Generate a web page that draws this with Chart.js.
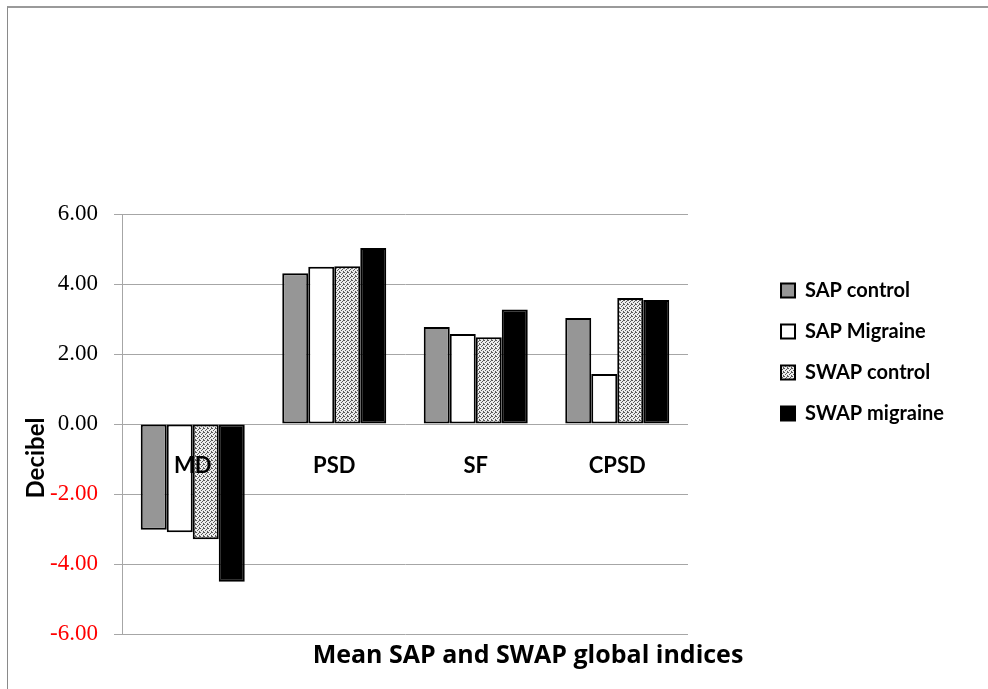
<!DOCTYPE html>
<html>
<head>
<meta charset="utf-8">
<script src="https://cdn.jsdelivr.net/npm/chart.js@4"></script>
<style>
  body { margin: 0; background: #fff; }
  #wrap { position: relative; width: 988px; height: 689px; }
  #frame { position: absolute; left: 7px; top: 6px; right: 0; bottom: 0; border-left: 1px solid #8a8a8a; border-top: 2px solid #9a9a9a; pointer-events: none; }
</style>
</head>
<body>
<div id="wrap">
  <canvas id="chart" width="988" height="689"></canvas>
  <div id="frame"></div>
</div>
<script>
const categories = ['MD', 'PSD', 'SF', 'CPSD'];
const sapControl = [-3.02, 4.31, 2.77, 3.03];
const sapMigraine = [-3.09, 4.49, 2.57, 1.43];
const swapControl = [-3.29, 4.51, 2.48, 3.60];
const swapMigraine = [-4.51, 5.03, 3.27, 3.54];
const xTitle = 'Mean SAP and SWAP global indices';
const yTitle = 'Decibel';

// stippled fill used by Excel for "SWAP control"
function dots() {
    const c = document.createElement('canvas');
    c.width = 4; c.height = 4;
    const g = c.getContext('2d');
    g.fillStyle = '#ececec';
    g.fillRect(0, 0, 4, 4);
    g.fillStyle = '#5a5a5a';
    [[0, 0], [2, 1], [1, 2], [3, 3], [3, 0]].forEach(([x, y]) => g.fillRect(x, y, 1, 1));
    return g.createPattern(c, 'repeat');
}

const padRight = 34;

// axis titles sit where Excel put them, not centred on the plot
const axisTitles = {
    id: 'axisTitles',
    afterDraw(chart) {
        const ctx = chart.ctx;
        ctx.save();
        ctx.fillStyle = '#000';
        ctx.textAlign = 'center';
        ctx.textBaseline = 'middle';
        ctx.font = 'bold 25px "Open Sans"';
        ctx.fillText(xTitle, 528, 656);
        ctx.font = 'bold 24px Lato';
        ctx.translate(36, 458);
        ctx.rotate(-Math.PI / 2);
        ctx.fillText(yTitle, 0, 0);
        ctx.restore();
    }
};

const bar = (label, data, bg) => ({ label, data, backgroundColor: bg, borderColor: '#000', borderWidth: 2, borderSkipped: false });

new Chart(document.getElementById('chart'), {
    type: 'bar',
    data: {
        labels: categories,
        datasets: [
            bar('SAP control', sapControl, '#969696'),
            bar('SAP Migraine', sapMigraine, '#ffffff'),
            bar('SWAP control', swapControl, dots()),
            bar('SWAP migraine', swapMigraine, '#000000')
        ]
    },
    options: {
        responsive: false,
        animation: false,
        layout: { padding: { top: 214, bottom: 55, left: 0, right: padRight } },
        datasets: { bar: { categoryPercentage: 0.735, barPercentage: 1 } },
        scales: {
            x: {
                position: { y: 0 },
                grid: { display: false, drawTicks: false },
                border: { display: false },
                // labels are painted over the bars, as in the original
                ticks: { z: 1, padding: 29, color: '#000', font: { family: 'Lato', weight: 'bold', size: 22 } }
            },
            y: {
                min: -6, max: 6,
                afterFit: s => { s.width = 122; },
                grid: { color: '#a6a6a6', tickLength: 8 },
                border: { color: '#a6a6a6' },
                ticks: {
                    stepSize: 2, padding: 16,
                    callback: v => v.toFixed(2),
                    color: c => c.tick.value < 0 ? '#ff0000' : '#000',
                    font: { family: 'Liberation Serif', size: 23 }
                }
            },
            gap: {
                type: 'linear', position: 'right', display: true,
                grid: { display: false }, border: { display: false }, ticks: { display: false },
                afterFit: s => { s.width = s.chart.width - padRight - s.chart.legend.width - 688; }
            }
        },
        plugins: {
            tooltip: { enabled: false },
            legend: {
                position: 'right', align: 'start', maxWidth: 260,
                title: { display: true, text: '', padding: 0, font: { size: 38 } },
                labels: { boxWidth: 14, boxHeight: 14, padding: 21, color: '#000', font: { family: 'Lato', weight: 'bold', size: 20 } }
            }
        }
    },
    plugins: [axisTitles]
});
</script>
</body>
</html>
